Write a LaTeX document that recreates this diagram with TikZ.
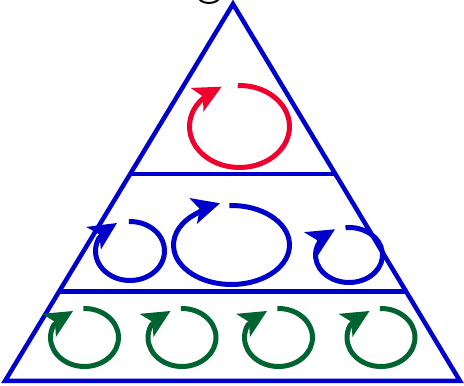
\documentclass[tikz,border=0pt]{standalone}
\usetikzlibrary{calc}
\definecolor{tblue}{RGB}{0,0,204}
\definecolor{tred}{RGB}{240,0,45}
\definecolor{tgreen}{RGB}{0,100,48}
\tikzset{
  layerline/.style={draw=tblue,line width=4.5pt,line join=miter},
  cyc/.style={line width=5pt},
}
\newcommand{\myhead}[3]{%
  \begin{scope}[shift={(#2)},rotate=#3]
    \fill[#1] (0,0) -- (-28,13.5) -- (-21,0) -- (-28,-13.5) -- cycle;
  \end{scope}}
\begin{document}
\begin{tikzpicture}[x=1pt,y=1pt]
\useasboundingbox (0,0) rectangle (464,386);
\clip (0,0) rectangle (464,386);
% black arc cut at top
\draw[black,line width=2pt] (209,390) ellipse[x radius=11, y radius=7];
% triangle
\coordinate (A) at (233,382);
\coordinate (L) at (5,5);
\coordinate (R) at (460,5);
\draw[layerline] (L) -- (A) -- (R) -- cycle;
\coordinate (m1l) at ($(L)!{(212-5)/(382-5)}!(A)$);
\coordinate (m1r) at ($(R)!{(212-5)/(382-5)}!(A)$);
\coordinate (m2l) at ($(L)!{(94.5-5)/(382-5)}!(A)$);
\coordinate (m2r) at ($(R)!{(94.5-5)/(382-5)}!(A)$);
\draw[layerline] (m1l) -- (m1r);
\draw[layerline] (m2l) -- (m2r);
% top cycle (red)
\coordinate (tR) at (221.7,299.3);
\draw[cyc,tred] ($(239.5,259.5)+(92:50 and 41)$) arc[start angle=92,end angle=-220,x radius=50,y radius=41] -- ($(tR)+(28:-14)$);
\myhead{tred}{tR}{28}
% middle cycles (blue)
\coordinate (tB1) at (117,163);
\coordinate (tB2) at (220,182.7);
\coordinate (tB3) at (335,156.7);
\draw[cyc,tblue] ($(130,135)+(92:34.5 and 29.5)$) arc[start angle=92,end angle=-205,x radius=34.5,y radius=29.5] -- ($(tB1)+(33:-14)$);
\myhead{tblue}{tB1}{33}
\draw[cyc,tblue] ($(231.5,141)+(92:58 and 39.5)$) arc[start angle=92,end angle=-235,x radius=58,y radius=39.5] -- ($(tB2)+(16:-14)$);
\myhead{tblue}{tB2}{16}
\draw[cyc,tblue] ($(349,131)+(96:33.5 and 27.5)$) arc[start angle=96,end angle=-208,x radius=33.5,y radius=27.5] -- ($(tB3)+(31:-14)$);
\myhead{tblue}{tB3}{31}
% bottom cycles (green)
\foreach \cx in {84.5,182,278.5,381}{
  \coordinate (tG) at ($(\cx,48.5)+(-11.5,26.5)$);
  \draw[cyc,tgreen] ($(\cx,48.5)+(92:34 and 29)$) arc[start angle=92,end angle=-205,x radius=34,y radius=29] -- ($(tG)+(31:-14)$);
  \myhead{tgreen}{tG}{31}
}
\end{tikzpicture}
\end{document}
